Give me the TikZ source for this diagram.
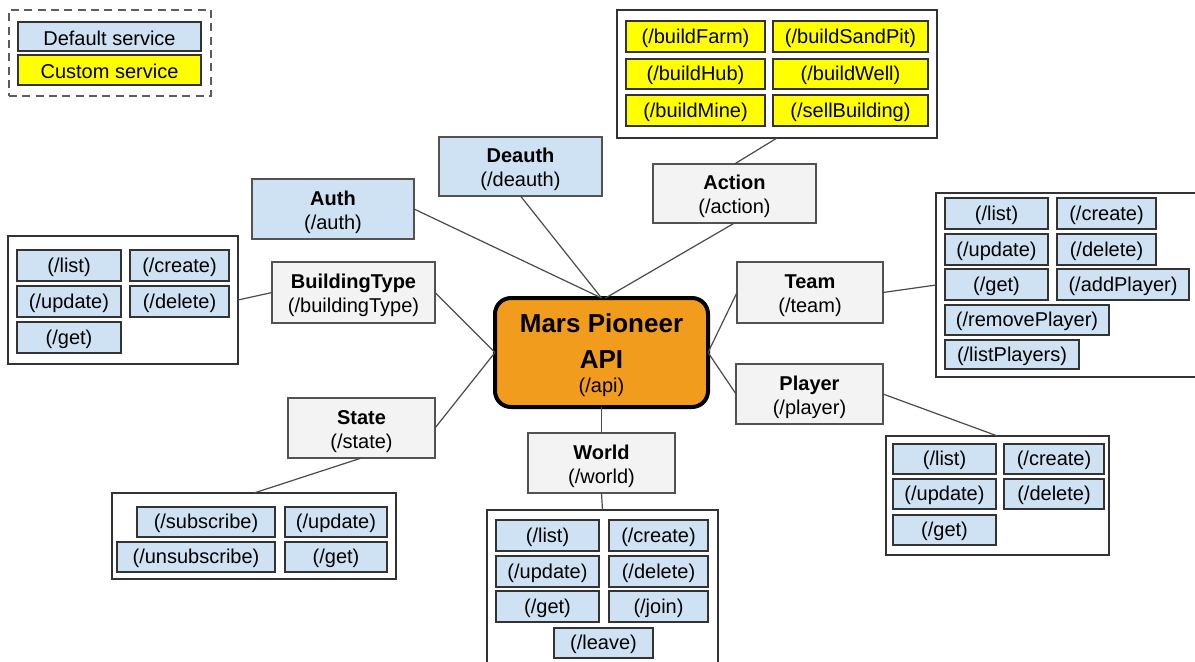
\documentclass[tikz,border=0pt]{standalone}
\usepackage{fontspec}
\setmainfont{Liberation Sans}
\definecolor{svcblue}{HTML}{CFE2F3}
\definecolor{svcyellow}{HTML}{FFFF00}
\definecolor{resgrey}{HTML}{F3F3F3}
\definecolor{apiorange}{HTML}{F29C1D}
\definecolor{edgegrey}{HTML}{333333}
\definecolor{wiregrey}{HTML}{4A4A4A}
% \pbox{style}{name}{x1}{y1}{x2}{y2}{text}: box given by its corners
\newcommand{\pbox}[7]{%
  \node[#1, minimum width={(#5-#3)*0.75pt}, minimum height={(#6-#4)*0.75pt}]
    (#2) at ({(#3+#5)/2},{(#4+#6)/2}) {#7};}
% resource label: bold name over its path
\newcommand{\restext}[2]{\rule{0pt}{15.5pt}\textbf{#1}\\#2}
\begin{document}
\begin{tikzpicture}[x=0.75pt, y=-0.75pt,
  every node/.style={inner sep=0pt, outer sep=0pt},
  txt/.style={font=\fontsize{15}{18}\selectfont},
  item/.style={txt, draw=edgegrey, fill=svcblue, line width=1pt,
    execute at begin node=\rule{0pt}{13pt}},
  custom/.style={item, fill=svcyellow},
  res/.style={txt, draw=edgegrey!85, fill=resgrey, line width=1pt, align=center},
  resblue/.style={res, fill=svcblue},
  group/.style={draw=edgegrey, fill=white, line width=1pt},
  legendbox/.style={draw=edgegrey!80, line width=1.1pt, dash pattern=on 6pt off 4pt},
  root/.style={draw=black, line width=3pt, rounded corners=12pt, fill=apiorange, align=center,
    font=\fontsize{19.5}{26.5}\selectfont\bfseries},
  link/.style={draw=wiregrey, line width=0.9pt}]
\useasboundingbox (0,0) rectangle (1195,661);
\fill[white] (0,0) rectangle (1195,661);

% legend
\pbox{legendbox}{legend}{9}{10}{211}{96}{}
\pbox{item}{legdefault}{18}{22}{201}{51}{Default service}
\pbox{custom}{legcustom}{18}{55}{201}{85}{Custom service}

% central service
\pbox{root}{api}{495}{298}{708}{407}{\rule{0pt}{18pt}Mars Pioneer\\API\\[-8.5pt]{\fontsize{15}{18}\selectfont\mdseries(/api)}}

% resources
\pbox{resblue}{auth}{252}{179}{414}{239}{\restext{Auth}{(/auth)}}
\pbox{resblue}{deauth}{439}{137}{602}{196}{\restext{Deauth}{(/deauth)}}
\pbox{res}{action}{653}{164}{816}{223}{\restext{Action}{(/action)}}
\pbox{res}{btype}{272}{262}{435}{323}{\restext{BuildingType}{(/buildingType)}}
\pbox{res}{state}{288}{398}{435}{458}{\restext{State}{(/state)}}
\pbox{res}{world}{528}{433}{675}{493}{\restext{World}{(/world)}}
\pbox{res}{team}{737}{262}{883}{323}{\restext{Team}{(/team)}}
\pbox{res}{player}{736}{364}{883}{424}{\restext{Player}{(/player)}}

% action endpoints
\pbox{group}{actiongrp}{617}{10}{937}{138}{}
\pbox{custom}{abfarm}{626}{21}{765}{52}{(/buildFarm)}
\pbox{custom}{absand}{773}{21}{928}{52}{(/buildSandPit)}
\pbox{custom}{abhub}{626}{59}{765}{89}{(/buildHub)}
\pbox{custom}{abwell}{773}{59}{928}{89}{(/buildWell)}
\pbox{custom}{abmine}{626}{95}{765}{126}{(/buildMine)}
\pbox{custom}{asell}{773}{95}{928}{126}{(/sellBuilding)}

% buildingType endpoints
\pbox{group}{btgrp}{8}{236}{238}{364}{}
\pbox{item}{btlist}{17}{250}{121}{281}{(/list)}
\pbox{item}{btcreate}{130}{250}{229}{281}{(/create)}
\pbox{item}{btupdate}{17}{286}{121}{317}{(/update)}
\pbox{item}{btdelete}{130}{286}{229}{317}{(/delete)}
\pbox{item}{btget}{17}{322}{121}{353}{(/get)}

% state endpoints
\pbox{group}{stgrp}{112}{493}{396}{579}{}
\pbox{item}{stsub}{137}{507}{275}{537}{(/subscribe)}
\pbox{item}{stupdate}{285}{507}{387}{537}{(/update)}
\pbox{item}{stunsub}{117}{542}{275}{572}{(/unsubscribe)}
\pbox{item}{stget}{285}{542}{387}{572}{(/get)}

% world endpoints
\pbox{group}{wgrp}{487}{510}{718}{668}{}
\pbox{item}{wlist}{496}{520}{599}{551}{(/list)}
\pbox{item}{wcreate}{609}{520}{708}{551}{(/create)}
\pbox{item}{wupdate}{496}{556}{599}{587}{(/update)}
\pbox{item}{wdelete}{609}{556}{708}{587}{(/delete)}
\pbox{item}{wget}{496}{591}{599}{622}{(/get)}
\pbox{item}{wjoin}{609}{591}{708}{622}{(/join)}
\pbox{item}{wleave}{554}{628}{653}{658}{(/leave)}

% team endpoints
\pbox{group}{tgrp}{936}{193}{1203}{377}{}
\pbox{item}{tlist}{945}{198}{1048}{229}{(/list)}
\pbox{item}{tcreate}{1057}{198}{1156}{229}{(/create)}
\pbox{item}{tupdate}{945}{234}{1048}{265}{(/update)}
\pbox{item}{tdelete}{1057}{234}{1156}{265}{(/delete)}
\pbox{item}{tget}{945}{269}{1048}{300}{(/get)}
\pbox{item}{tadd}{1057}{269}{1189}{300}{(/addPlayer)}
\pbox{item}{tremove}{945}{305}{1109}{335}{(/removePlayer)}
\pbox{item}{tlistp}{945}{340}{1079}{369}{(/listPlayers)}

% player endpoints
\pbox{group}{pgrp}{886}{436}{1109}{555}{}
\pbox{item}{plist}{893}{444}{996}{474}{(/list)}
\pbox{item}{pcreate}{1004}{444}{1104}{474}{(/create)}
\pbox{item}{pupdate}{893}{479}{996}{509}{(/update)}
\pbox{item}{pdelete}{1004}{479}{1104}{509}{(/delete)}
\pbox{item}{pget}{893}{515}{996}{545}{(/get)}

% connectors
\path[link] (auth.east) -- (api.north);
\path[link] (deauth.south) -- (api.north);
\path[link] (action.south) -- ([xshift=3]api.north);
\path[link] (action.north) -- (actiongrp.south);
\path[link] (btype.east) -- (api.west);
\path[link] (btype.west) -- (btgrp.east);
\path[link] (state.east) -- (api.west);
\path[link] (state.south) -- (stgrp.north);
\path[link] (api.south) -- (world.north);
\path[link] (world.south) -- (wgrp.north);
\path[link] (team.west) -- (api.east);
\path[link] (team.east) -- (tgrp.west);
\path[link] (player.west) -- (api.east);
\path[link] (player.east) -- (pgrp.north);
\end{tikzpicture}
\end{document}
